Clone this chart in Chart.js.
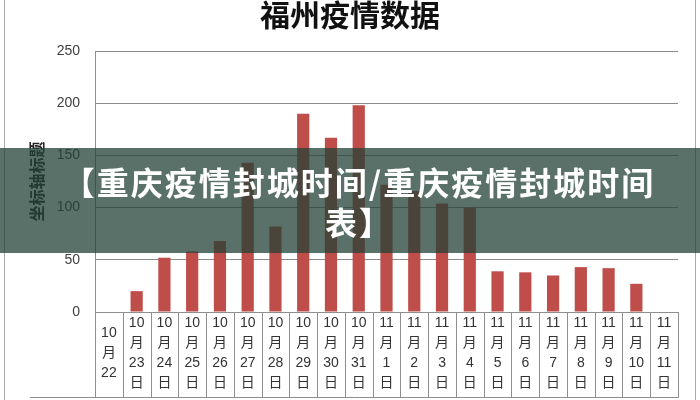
<!DOCTYPE html>
<html>
<head>
<meta charset="utf-8">
<script src="https://cdn.jsdelivr.net/npm/chart.js@4/dist/chart.umd.min.js"></script>
<style>
  html, body { margin: 0; padding: 0; background: #fff; }
  #wrap { position: relative; width: 700px; height: 400px; overflow: hidden; }
  #c { position: absolute; left: 0; top: 0; }
  #banner {
    position: absolute; left: 0; top: 148px; width: 700px; height: 105px;
    background: rgba(35, 65, 55, 0.75);
    color: #fff; font-family: "Noto Sans CJK SC", sans-serif; font-weight: 700;
    font-size: 32px; line-height: 40px; text-align: center; letter-spacing: 2px;
    padding-top: 13px; padding-left: 18px; box-sizing: border-box;
  }
</style>
</head>
<body>
<div id="wrap">
  <canvas id="c" width="700" height="400"></canvas>
  <div id="banner">【重庆疫情封城时间/重庆疫情封城时间<br>表】</div>
</div>
<script>
const chartTitle = '福州疫情数据';
const yAxisTitle = '坐标轴标题';
const categories = [
  ['10','月','22'],
  ['10','月','23','日'], ['10','月','24','日'], ['10','月','25','日'], ['10','月','26','日'],
  ['10','月','27','日'], ['10','月','28','日'], ['10','月','29','日'], ['10','月','30','日'],
  ['10','月','31','日'],
  ['11','月','1','日'], ['11','月','2','日'], ['11','月','3','日'], ['11','月','4','日'],
  ['11','月','5','日'], ['11','月','6','日'], ['11','月','7','日'], ['11','月','8','日'],
  ['11','月','9','日'], ['11','月','10','日'], ['11','月','11','日']
];
const values = [0, 20, 52, 58, 68, 143, 82, 190, 167, 198, 122, 116, 104, 100, 39, 38, 35, 43, 42, 27, 0];
const yTicks = [0, 50, 100, 150, 200, 250];

const tablePlugin = {
  id: 'tableLines',
  afterDraw(chart) {
    const ctx = chart.ctx;
    const x = chart.scales.x;
    const area = chart.chartArea;
    const half = (x.getPixelForValue(1) - x.getPixelForValue(0)) / 2;
    const bottom = 397.5;
    ctx.save();
    ctx.strokeStyle = '#8e8e8e';
    ctx.lineWidth = 1;
    ctx.beginPath();
    for (let i = 0; i <= categories.length; i++) {
      const px = Math.round(x.getPixelForValue(i) - half) + 0.5;
      ctx.moveTo(px, area.bottom);
      ctx.lineTo(px, bottom);
    }
    ctx.moveTo(30, bottom);
    ctx.lineTo(Math.round(x.getPixelForValue(categories.length - 1) + half) + 0.5, bottom);
    ctx.stroke();
    ctx.strokeStyle = '#a8a8a8';
    ctx.beginPath();
    ctx.moveTo(4.5, 0); ctx.lineTo(4.5, 400);
    ctx.moveTo(695.5, 0); ctx.lineTo(695.5, 400);
    ctx.stroke();
    ctx.restore();
  }
};

new Chart(document.getElementById('c'), {
  type: 'bar',
  data: {
    labels: categories,
    datasets: [{
      data: values,
      backgroundColor: '#bf4e4a',
      categoryPercentage: 1,
      barPercentage: 0.44
    }]
  },
  options: {
    responsive: false,
    animation: false,
    devicePixelRatio: 1,
    layout: { padding: { left: 22, right: 22, top: 0, bottom: 0 } },
    plugins: {
      legend: { display: false },
      tooltip: { enabled: false },
      title: {
        display: true,
        text: chartTitle,
        color: '#111',
        font: { family: '"Noto Sans CJK SC", sans-serif', size: 30, weight: 'bold', lineHeight: 1.2 },
        padding: { top: -3, bottom: 18 }
      }
    },
    scales: {
      y: {
        min: 0, max: 250,
        afterBuildTicks(scale) { scale.ticks = yTicks.map(v => ({ value: v })); },
        afterFit(scale) { scale.width = 73; },
        ticks: {
          color: '#404040',
          padding: 15,
          font: { family: '"Liberation Sans", sans-serif', size: 14 }
        },
        grid: { color: '#8a8a8a', drawTicks: false, lineWidth: 1 },
        border: { display: true, color: '#8e8e8e' },
        title: {
          display: true,
          text: yAxisTitle,
          color: '#222',
          font: { family: '"Noto Sans CJK SC", sans-serif', size: 16, weight: 'bold', lineHeight: 1.2 },
          padding: { top: 5, bottom: 0 }
        }
      },
      x: {
        afterFit(scale) { scale.height = 88; },
        grid: { display: false, drawTicks: false },
        border: { display: true, color: '#8e8e8e' },
        ticks: {
          color: '#333',
          padding: 11,
          autoSkip: false,
          maxRotation: 0,
          minRotation: 0,
          crossAlign: 'center',
          font: { family: '"Liberation Sans", "Noto Sans CJK SC", sans-serif', size: 14, lineHeight: '20px' }
        }
      }
    }
  },
  plugins: [tablePlugin]
});
</script>
</body>
</html>
